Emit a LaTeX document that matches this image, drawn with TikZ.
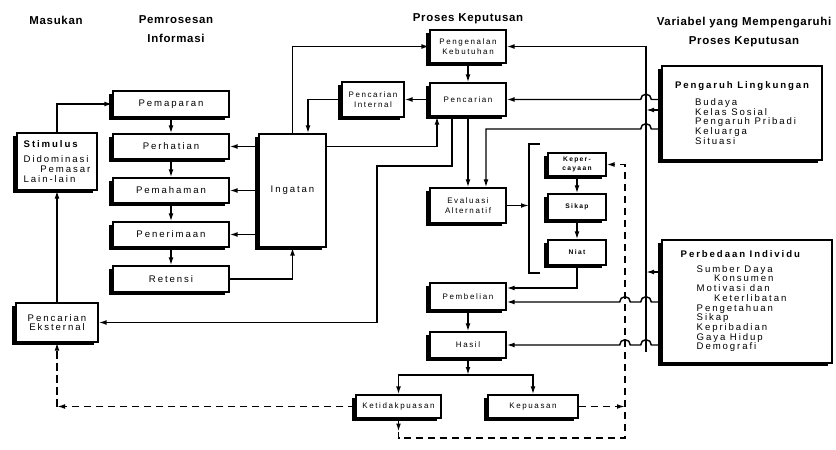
\documentclass[tikz,border=0pt]{standalone}
\usepackage{fontspec}
\setmainfont{Liberation Sans}
\newfontfamily\bxfont[LetterSpace=20]{Liberation Sans}
\newfontfamily\hdfont[LetterSpace=6]{Liberation Sans}
\usetikzlibrary{arrows.meta,calc}
\begin{document}
\begin{tikzpicture}[x=0.75pt,y=-0.75pt,
  line/.style={line width=1.1pt},
  arr/.style={line width=1.1pt,-{Latex[length=6pt,width=3.6pt]}},
  darr/.style={arr,dash pattern=on 5.5pt off 3.5pt},
  bx/.style={draw,line width=0.8pt,fill=white,preaction={fill=black,transform canvas={xshift=-3.2pt,yshift=-2.4pt}},inner sep=1pt,align=center,font=\bxfont\fontsize{7.2}{7.3}\selectfont},
  sbx/.style={bx,font=\bxfont\fontsize{6}{7.4}\selectfont},
  tbx/.style={bx,font=\bxfont\bfseries\fontsize{5}{6.4}\selectfont},
  sz/.style 2 args={minimum width=#1*0.75pt,minimum height=#2*0.75pt},
  hd/.style={font=\hdfont\bfseries\fontsize{8.6}{14}\selectfont,align=center},
]
\fill[white] (0,0) rectangle (836,450);
% headers
\node[hd] (hmasuk) at (56,20) {Masukan};
\node[hd] (hpemr) at (176,29) {Pemrosesan\\Informasi};
\node[hd] (hproses) at (468,19) {Proses Keputusan};
\node[hd] (hvar) at (744,32) {Variabel yang Mempengaruhi\\Proses Keputusan};
% boxes
\node[bx,sz={80}{57},align=left] (stim) at (57,161.5) {{\bfseries Stimulus}\\[4pt]Didominasi\\\hspace*{12.5pt}Pemasar\\Lain-lain};
\node[bx,sz={82}{39}] (eks) at (57,322.5) {Pencarian\\Eksternal};
\node[bx,sz={116}{26}] (pemaparan) at (171,104) {Pemaparan};
\node[bx,sz={116}{25}] (perhatian) at (171,146.5) {Perhatian};
\node[bx,sz={116}{25}] (pemahaman) at (171,190.5) {Pemahaman};
\node[bx,sz={116}{25}] (penerimaan) at (171,234.5) {Penerimaan};
\node[bx,sz={116}{26}] (retensi) at (171,279) {Retensi};
\node[bx,sz={67}{113}] (ingatan) at (292.5,190.5) {Ingatan};
\node[sbx,sz={76}{33}] (pengenalan) at (468,46.5) {Pengenalan\\Kebutuhan};
\node[sbx,sz={76}{33}] (pencarian) at (468,99.5) {Pencarian};
\node[sbx,sz={62}{35}] (pint) at (373,99.5) {Pencarian\\Internal};
\node[sbx,sz={76}{35}] (evaluasi) at (468,205.5) {Evaluasi\\Alternatif};
\node[tbx,sz={58}{23}] (keper) at (577,164.5) {Keper-\\cayaan};
\node[tbx,sz={58}{26}] (sikap) at (577,207) {Sikap};
\node[tbx,sz={58}{25}] (niat) at (577,252.5) {Niat};
\node[sbx,sz={76}{27}] (pembelian) at (468,296.5) {Pembelian};
\node[sbx,sz={76}{26}] (hasil) at (468,345) {Hasil};
\node[sbx,sz={85}{23}] (ketidak) at (398.5,406.5) {Ketidakpuasan};
\node[sbx,sz={90}{23}] (kepuasan) at (533,406.5) {Kepuasan};
\node[bx,sz={160}{94},align=left] (lingk) at (742,113) {{\bfseries Pengaruh Lingkungan}\\[5.5pt]\hspace*{15pt}Budaya\\\hspace*{15pt}Kelas Sosial\\\hspace*{15pt}Pengaruh Pribadi\\\hspace*{15pt}Keluarga\\\hspace*{15pt}Situasi};
\node[bx,sz={170}{123},align=left] (indiv) at (747,301.5) {{\bfseries Perbedaan Individu}\hspace*{10pt}\\[3.3pt]\hspace*{12pt}Sumber Daya\\\hspace*{25pt}Konsumen\\\hspace*{12pt}Motivasi dan\\\hspace*{25pt}Keterlibatan\\\hspace*{12pt}Pengetahuan\\\hspace*{12pt}Sikap\\\hspace*{12pt}Kepribadian\\\hspace*{12pt}Gaya Hidup\\\hspace*{12pt}Demografi};
% helper coordinates
\coordinate (bus) at (646,0);
\coordinate (dl) at (625,0);
\coordinate (busb) at (646,352);
\coordinate (w1) at (452,166);
\coordinate (w2) at (377,166);
\coordinate (ev2) at (486,129);
\coordinate (brt) at (540,144);
\coordinate (brb) at (540,273);
\coordinate (brx) at (529,205.5);
\coordinate (hs) at (468,375);
\coordinate (dbot) at (625,438);
% input / information processing
\draw[arr] (stim.north) |- (pemaparan.west);
\draw[arr] (eks.north) -- (stim.south);
\draw[arr] (pemaparan) -- (perhatian);
\draw[arr] (perhatian) -- (pemahaman);
\draw[arr] (pemahaman) -- (penerimaan);
\draw[arr] (penerimaan) -- (retensi);
\draw[arr] (ingatan.west |- perhatian.east) -- (perhatian.east);
\draw[arr] (ingatan.west |- pemahaman.east) -- (pemahaman.east);
\draw[arr] (ingatan.west |- penerimaan.east) -- (penerimaan.east);
\draw[arr] (retensi.east) -| (ingatan.south);
\draw[arr] (ingatan.north) |- (pengenalan.west);
% decision process
\draw[arr] (pengenalan) -- (pencarian);
\draw[arr] (pencarian) -- (pint);
\draw[arr] (pint.west) -| ($(ingatan.north)+(15.5,0)$);
\draw[arr] (ingatan.east |- perhatian.east) -| ($(pencarian.south)+(-31,0)$);
\draw[arr] (pencarian.south -| w1) -- (w1) -- (w2) |- (eks.east);
\draw[arr] (pencarian) -- (evaluasi);
\draw[line] (brt) -- (brt -| brx) -- (brb -| brx) -- (brb);
\draw[arr] (evaluasi.east) -- (brx |- evaluasi.east);
\draw[arr] (keper) -- (sikap);
\draw[arr] (sikap) -- (niat);
\draw[arr] (niat.south) |- ($(pembelian.east)+(0,-8.5)$);
\draw[arr] (pembelian) -- (hasil);
\draw[arr] (hasil.south) -- (hs);
\draw[arr] (hs) -| (ketidak.north);
\draw[arr] (hs) -| (kepuasan.north);
% influences
\draw[arr] (busb) |- (pengenalan.east);
\draw[arr] (lingk.west |- 0,110) -- (bus |- 0,110);
\draw[arr] (indiv.west |- 0,272) -- (bus |- 0,272);
\draw[arr] (lingk.west |- pencarian.east) -- ($(bus |- pencarian.east)+(5.33,0)$) arc[start angle=0,end angle=180,radius=4pt] -- (pencarian.east);
\draw[arr] (lingk.west |- ev2) -- ($(bus |- ev2)+(5.33,0)$) arc[start angle=0,end angle=180,radius=4pt] -- (ev2) -- (evaluasi.north -| ev2);
\draw[arr] (indiv.west |- 0,302) -- ($(bus |- 0,302)+(5.33,0)$) arc[start angle=0,end angle=180,radius=4pt] -- ($(dl |- 0,302)+(5.33,0)$) arc[start angle=0,end angle=180,radius=4pt] -- (pembelian.east |- 0,302);
\draw[arr] (indiv.west |- hasil.east) -- ($(bus |- hasil.east)+(5.33,0)$) arc[start angle=0,end angle=180,radius=4pt] -- ($(dl |- hasil.east)+(5.33,0)$) arc[start angle=0,end angle=180,radius=4pt] -- (hasil.east);
% feedback (dashed)
\draw[darr] (kepuasan.east) -- (dl |- kepuasan.east);
\draw[arr] (ketidak.south) -- ($(ketidak.south)+(0,13)$);
\draw[darr] ($(ketidak.south)+(0,13)$) -- (ketidak.south |- dbot) -- (dbot) |- (keper.east);
\draw[darr] (ketidak.west) -- (eks.south |- ketidak.west);
\draw[darr] (eks.south |- ketidak.west) -- (eks.south);
\end{tikzpicture}
\end{document}
